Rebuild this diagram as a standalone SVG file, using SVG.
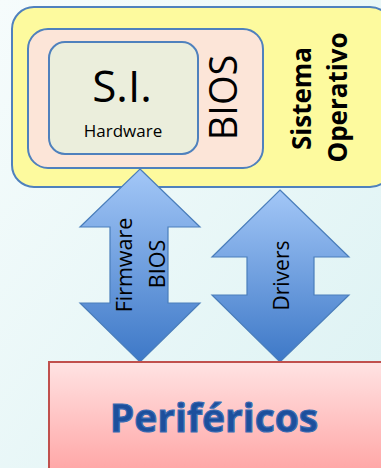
<svg xmlns="http://www.w3.org/2000/svg" width="381" height="468" viewBox="0 0 381 468">
<defs>
<linearGradient id="bg" x1="0" y1="0" x2="1" y2="1"><stop offset="0" stop-color="#f6fcfc"/><stop offset="1" stop-color="#dcf2f3"/></linearGradient>
<linearGradient id="arr" x1="0" y1="0" x2="0" y2="1"><stop offset="0" stop-color="#a3c7f7"/><stop offset="1" stop-color="#3d78c7"/></linearGradient>
<linearGradient id="per" x1="0" y1="0" x2="0" y2="1"><stop offset="0" stop-color="#ffe3e3"/><stop offset="1" stop-color="#ffa3a3"/></linearGradient>
<style>
.t{font-family:"Open Sans","Noto Sans",sans-serif;fill:#000}
.b{stroke:#4f81bd;stroke-width:2}
.a{fill:url(#arr);stroke:#4a7ebb;stroke-width:1.2}
</style>
</defs>
<rect width="381" height="468" fill="url(#bg)"/>
<g id="so">
<rect class="b" x="12" y="7" width="380" height="180" rx="22" fill="#fdfa9e"/>
<text class="t" font-weight="bold" font-size="26" transform="translate(311,98.5) rotate(-90)" text-anchor="middle">Sistema</text>
<text class="t" font-weight="bold" font-size="26" transform="translate(347,97.5) rotate(-90)" text-anchor="middle">Operativo</text>
</g>
<g id="bios">
<rect class="b" x="28" y="29" width="235" height="139" rx="20" fill="#fce5d8"/>
<text class="t" font-size="38" transform="translate(237,97.5) rotate(-90)" text-anchor="middle">BIOS</text>
</g>
<g id="hw">
<rect class="b" x="49" y="42" width="149" height="112" rx="16" fill="#ebeedc"/>
<text class="t" font-size="44" x="122" y="102" text-anchor="middle">S.I.</text>
<text class="t" font-size="17" x="123" y="137" text-anchor="middle">Hardware</text>
</g>
<g id="connectors">
<path class="a" d="M140,169 L200,227 L168,227 L168,303 L200,303 L140,362 L80,303 L110,303 L110,227 L80,227 Z"/>
<path class="a" d="M280,190 L349,257 L314,257 L314,295 L349,295 L280,362 L212,295 L247,295 L247,257 L212,257 Z"/>
<text class="t" font-size="21.5" transform="translate(132,265) rotate(-90)" text-anchor="middle">Firmware</text>
<text class="t" font-size="21.5" transform="translate(165,264) rotate(-90)" text-anchor="middle">BIOS</text>
<text class="t" font-size="21" transform="translate(289,275.5) rotate(-90)" text-anchor="middle">Drivers</text>
</g>
<g id="perifericos">
<rect x="49" y="362" width="340" height="115" fill="url(#per)" stroke="#c0504d" stroke-width="2"/>
<text x="214" y="432" text-anchor="middle" font-family="'Open Sans','Noto Sans',sans-serif" font-weight="bold" font-size="39" fill="#1d4f9c" stroke="#3a6cb3" stroke-width="1.2">Periféricos</text>
</g>
</svg>
